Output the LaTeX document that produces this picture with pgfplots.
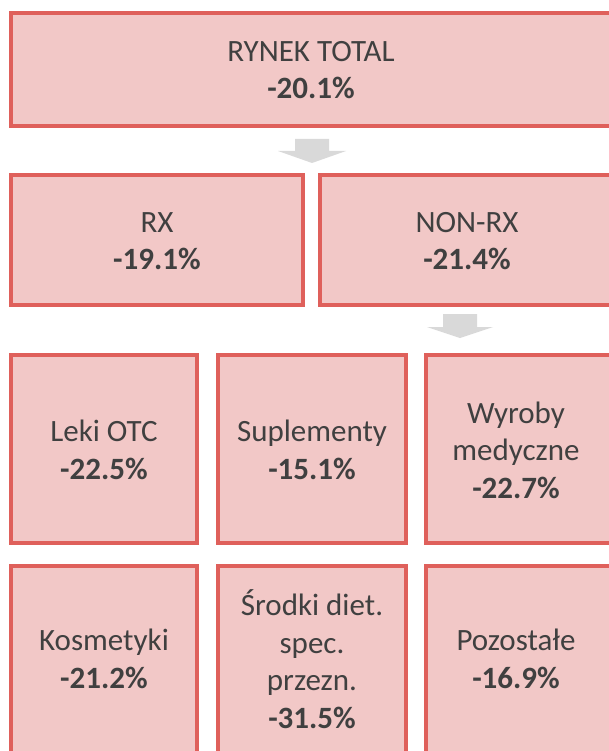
\documentclass[border=0pt]{standalone}
\usepackage{pgfplots}
\pgfplotsset{compat=1.18}
\usepackage{fontspec}
\setmainfont{Carlito}
\definecolor{boxfill}{HTML}{F2C8C7}
\definecolor{boxline}{HTML}{DF605B}
\definecolor{arrowgray}{HTML}{D9D9D9}
\definecolor{txt}{HTML}{404040}
\tikzset{lbl/.style={font=\fontsize{31bp}{37.5bp}\selectfont,text=txt,align=center,inner sep=0pt}}
\begin{document}
\begin{tikzpicture}
\begin{axis}[width=609bp,height=751bp,scale only axis,
  xmin=0,xmax=609,ymin=0,ymax=751,y dir=reverse,hide axis,clip=true,
  every axis plot/.append style={no markers,sharp plot,line join=miter}]
% boxes
\addplot[draw=boxline,fill=boxfill,line width=4bp] coordinates {(11,13)(620,13)(620,126)(11,126)} -- cycle;
\addplot[draw=boxline,fill=boxfill,line width=4bp] coordinates {(11,175)(303,175)(303,305)(11,305)} -- cycle;
\addplot[draw=boxline,fill=boxfill,line width=4bp] coordinates {(320,175)(620,175)(620,305)(320,305)} -- cycle;
\addplot[draw=boxline,fill=boxfill,line width=4bp] coordinates {(11,355)(197,355)(197,543)(11,543)} -- cycle;
\addplot[draw=boxline,fill=boxfill,line width=4bp] coordinates {(218,355)(406,355)(406,543)(218,543)} -- cycle;
\addplot[draw=boxline,fill=boxfill,line width=4bp] coordinates {(426,355)(620,355)(620,543)(426,543)} -- cycle;
\addplot[draw=boxline,fill=boxfill,line width=4bp] coordinates {(11,566)(197,566)(197,760)(11,760)} -- cycle;
\addplot[draw=boxline,fill=boxfill,line width=4bp] coordinates {(218,566)(406,566)(406,760)(218,760)} -- cycle;
\addplot[draw=boxline,fill=boxfill,line width=4bp] coordinates {(426,566)(620,566)(620,760)(426,760)} -- cycle;
% arrows
\addplot[draw=none,fill=arrowgray] coordinates {(295,139)(329,139)(329,151)(346,151)(312,163)(278,151)(295,151)} -- cycle;
\addplot[draw=none,fill=arrowgray] coordinates {(443,314)(477,314)(477,327)(493,327)(460,338)(427,327)(443,327)} -- cycle;
% labels
\node[lbl] at (axis cs:311,70) {RYNEK TOTAL\\\textbf{-20.1\%}};
\node[lbl] at (axis cs:157,241) {RX\\\textbf{-19.1\%}};
\node[lbl] at (axis cs:467,241) {NON-RX\\\textbf{-21.4\%}};
\node[lbl] at (axis cs:104,450) {Leki OTC\\\textbf{-22.5\%}};
\node[lbl] at (axis cs:312,450) {Suplementy\\\textbf{-15.1\%}};
\node[lbl] at (axis cs:516,450) {Wyroby\\medyczne\\\textbf{-22.7\%}};
\node[lbl] at (axis cs:104,659) {Kosmetyki\\\textbf{-21.2\%}};
\node[lbl] at (axis cs:312,659) {Środki diet.\\spec.\\przezn.\\\textbf{-31.5\%}};
\node[lbl] at (axis cs:516,659) {Pozostałe\\\textbf{-16.9\%}};
\end{axis}
\pgfresetboundingbox
\useasboundingbox (current axis.south west) rectangle (current axis.north east);
\end{tikzpicture}
\end{document}
